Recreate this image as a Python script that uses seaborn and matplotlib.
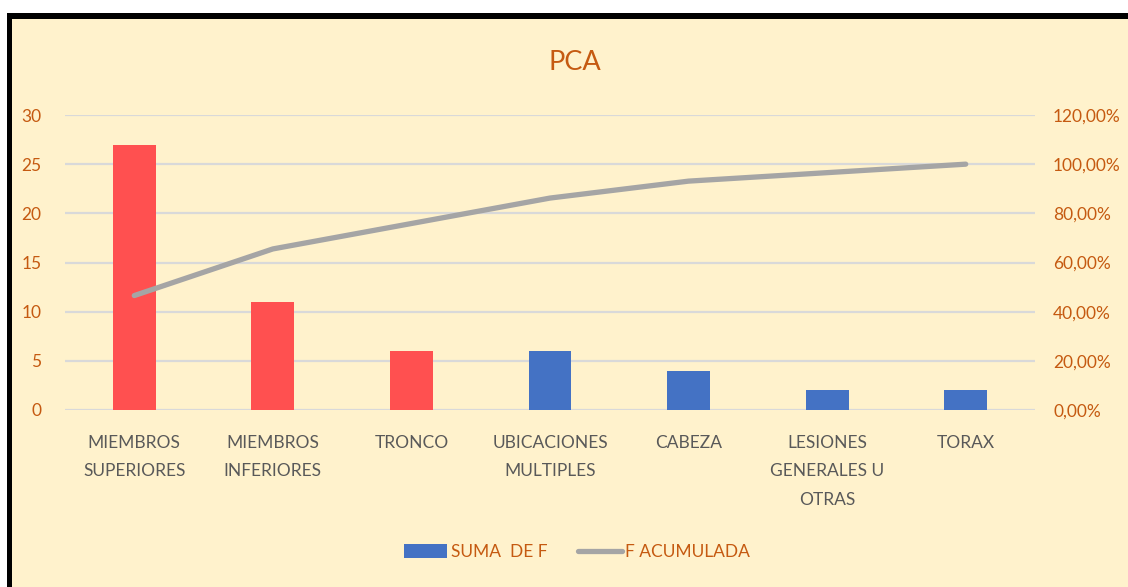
import numpy as np
import pandas as pd
import matplotlib
matplotlib.use("Agg")
import matplotlib.pyplot as plt
from matplotlib.patches import Rectangle, Patch
from matplotlib.lines import Line2D
from matplotlib.ticker import FuncFormatter
import seaborn as sns

# Data
categories = ["MIEMBROS\nSUPERIORES", "MIEMBROS\nINFERIORES", "TRONCO",
              "UBICACIONES\nMULTIPLES", "CABEZA", "LESIONES\nGENERALES U\nOTRAS", "TORAX"]
suma_f = [27, 11, 6, 6, 4, 2, 2]
f_acumulada = [0.4655, 0.6552, 0.7586, 0.8621, 0.9310, 0.9655, 1.0]
bar_colors = ["#FF5050", "#FF5050", "#FF5050", "#4472C4", "#4472C4", "#4472C4", "#4472C4"]

txt = "#C55A11"
bg = "#FFF2CC"

sns.set_style("white")
plt.rcParams["font.family"] = ["Lato", "DejaVu Sans"]

fig = plt.figure(figsize=(11.28, 5.87), dpi=100, facecolor="white")
W, H = 1128, 587
# black frame + yellow chart area
fig.add_artist(Rectangle((7 / W, 0), 1, 1 - 13 / H, transform=fig.transFigure,
                         facecolor="black", edgecolor="none", zorder=-2))
fig.add_artist(Rectangle((12 / W, 0), 1, 1 - 19 / H, transform=fig.transFigure,
                         facecolor=bg, edgecolor="none", zorder=-1))

ax = fig.add_axes([65 / W, 177 / H, 970 / W, 295 / H])
ax.set_facecolor("none")

df = pd.DataFrame({"cat": categories, "suma": suma_f})
sns.barplot(data=df, x="cat", y="suma", hue="cat", palette=bar_colors,
            width=0.31, legend=False, ax=ax, zorder=3, saturation=1, linewidth=0)

ax.set_ylim(0, 30)
ax.set_yticks([0, 5, 10, 15, 20, 25, 30])
ax.set_xlim(-0.5, len(categories) - 0.5)
ax.grid(axis="y", color="#D9D9D9", linewidth=1.6, zorder=0)
ax.set_axisbelow(True)
for s in ax.spines.values():
    s.set_visible(False)
ax.set_xlabel("")
ax.set_ylabel("")
ax.tick_params(axis="both", length=0, labelsize=12.5, labelcolor=txt)
ax.tick_params(axis="y", pad=17)
ax.tick_params(axis="x", pad=18)
for lab in ax.get_xticklabels():
    lab.set_color("#595959")
    lab.set_linespacing(1.95)
    lab.set_verticalalignment("top")

ax2 = ax.twinx()
sns.lineplot(x=np.arange(len(categories)), y=f_acumulada, ax=ax2,
             color="#A5A5A5", linewidth=3.8, solid_capstyle="round", zorder=4)
ax2.set_ylim(0, 1.2)
ax2.set_yticks(np.arange(0, 1.21, 0.2))
ax2.yaxis.set_major_formatter(FuncFormatter(lambda v, p: f"{v*100:.2f}%".replace(".", ",")))
ax2.tick_params(axis="y", length=0, labelsize=12.5, labelcolor=txt, pad=13)
for s in ax2.spines.values():
    s.set_visible(False)
ax2.set_ylabel("")

fig.text(575 / W, 1 - 62 / H, "PCA", ha="center", va="center", fontsize=19.5, color=txt)

handles = [Patch(facecolor="#4472C4", edgecolor="none"),
           Line2D([0], [0], color="#A5A5A5", linewidth=3.8, solid_capstyle="round")]
fig.legend(handles, ["SUMA  DE F", "F ACUMULADA"], loc="center",
           bbox_to_anchor=(577 / W, 1 - 552 / H), ncol=2, frameon=False,
           fontsize=12.5, labelcolor=txt, handlelength=2.5, handletextpad=0.2,
           columnspacing=1.8, handleheight=0.8)

fig.savefig("out.png", dpi=100, facecolor="white")
